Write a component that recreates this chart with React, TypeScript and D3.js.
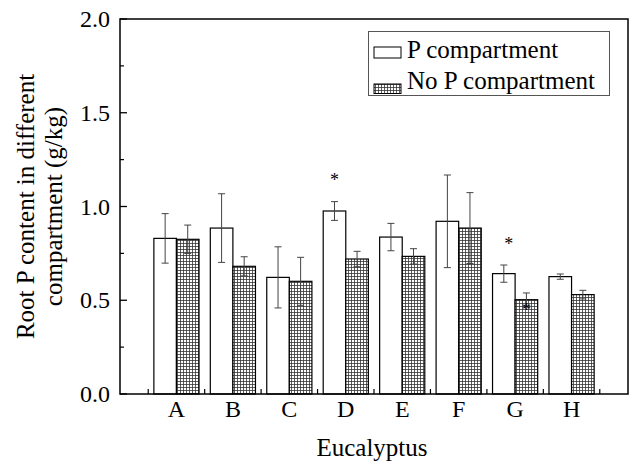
import React from "react";
import * as d3 from "d3";

// Eucalyptus clones and root P content (g/kg) in each compartment
const categories = ["A", "B", "C", "D", "E", "F", "G", "H"];
const pMeans = [0.83, 0.885, 0.622, 0.976, 0.837, 0.921, 0.642, 0.626];
const pErrors = [0.132, 0.183, 0.163, 0.05, 0.073, 0.247, 0.046, 0.014];
const noPMeans = [0.825, 0.681, 0.601, 0.72, 0.734, 0.885, 0.503, 0.53];
const noPErrors = [0.076, 0.051, 0.128, 0.041, 0.041, 0.189, 0.036, 0.023];
const yTicks = [0, 0.5, 1.0, 1.5, 2.0];
const yMinorTicks = [0.25, 0.75, 1.25, 1.75];
// significance marks: category, series (0 = P, 1 = No P), height in g/kg
const sigCategories = ["D", "G", "G"];
const sigSeries = [0, 0, 1];
const sigHeights = [1.154, 0.811, 0.459];
const seriesNames = ["P compartment", "No P compartment"];

const W = 630;
const H = 463;
const left = 120;
const right = 628;
const top = 19;
const bottom = 394;
const FONT = "'Liberation Serif', 'Times New Roman', serif";

export default function App() {
  const x = d3.scaleLinear().domain([0, categories.length + 1]).range([left, right]);
  const y = d3.scaleLinear().domain([0, 2]).range([bottom, top]);
  const unit = x(1) - x(0);
  const barW = unit * 0.4;
  const cx = (i: number) => x(i + 1);
  const barX = (i: number, s: number) => cx(i) - barW + s * barW;

  const series = [
    { means: pMeans, errs: pErrors, fill: "#fff" },
    { means: noPMeans, errs: noPErrors, fill: "url(#grid)" },
  ];

  const boundaries = d3.range(categories.length + 1).map((k) => k + 0.5);

  return (
    <svg
      width={W}
      height={H}
      style={{ position: "absolute", left: 0, top: 0, background: "#fff" }}
      fontFamily={FONT}
    >
      <defs>
        <pattern id="grid" patternUnits="userSpaceOnUse" width={3} height={3}>
          <rect width={3} height={3} fill="#fff" />
          <path d="M0,0.5H3M0.5,0V3" stroke="#333" strokeWidth={0.8} />
        </pattern>
      </defs>

      {/* bars */}
      {series.map((s, si) =>
        categories.map((c, i) => (
          <rect
            key={`b${si}-${c}`}
            x={barX(i, si)}
            y={y(s.means[i])}
            width={barW}
            height={y(0) - y(s.means[i])}
            fill={s.fill}
            stroke="#000"
            strokeWidth={1.2}
          />
        ))
      )}

      {/* error bars */}
      {series.map((s, si) =>
        categories.map((c, i) => {
          const mx = barX(i, si) + barW / 2;
          const y1 = y(s.means[i] + s.errs[i]);
          const y2 = y(s.means[i] - s.errs[i]);
          return (
            <g key={`e${si}-${c}`} stroke="#444" strokeWidth={1}>
              <line x1={mx} x2={mx} y1={y1} y2={y2} />
              <line x1={mx - 3.5} x2={mx + 3.5} y1={y1} y2={y1} />
              <line x1={mx - 3.5} x2={mx + 3.5} y1={y2} y2={y2} />
            </g>
          );
        })
      )}

      {/* significance asterisks */}
      {sigCategories.map((c, k) => {
        const i = categories.indexOf(c);
        const mx = barX(i, sigSeries[k]) + barW / 2 + (k === 1 ? 5 : 0);
        return (
          <text
            key={`s${k}`}
            x={mx}
            y={y(sigHeights[k]) + 8}
            textAnchor="middle"
            fontSize={18}
            fill="#000"
          >
            *
          </text>
        );
      })}

      {/* frame */}
      <rect
        x={left}
        y={top}
        width={right - left}
        height={bottom - top}
        fill="none"
        stroke="#000"
        strokeWidth={1.5}
      />

      {/* y ticks */}
      {yTicks.map((t) => (
        <g key={`yt${t}`}>
          <line x1={left} x2={left + 7} y1={y(t)} y2={y(t)} stroke="#000" strokeWidth={1.3} />
          <text x={110} y={y(t) + 8} textAnchor="end" fontSize={24} fill="#000">
            {t.toFixed(1)}
          </text>
        </g>
      ))}
      {yMinorTicks.map((t) => (
        <line key={`ym${t}`} x1={left} x2={left + 4} y1={y(t)} y2={y(t)} stroke="#000" strokeWidth={1.2} />
      ))}

      {/* x ticks */}
      {boundaries.map((b) => (
        <line key={`xb${b}`} x1={x(b)} x2={x(b)} y1={bottom} y2={bottom - 5} stroke="#000" strokeWidth={1.2} />
      ))}
      {categories.map((c, i) => (
        <text key={`xl${c}`} x={cx(i)} y={417} textAnchor="middle" fontSize={24} fill="#000">
          {c}
        </text>
      ))}

      {/* axis titles */}
      <text x={(left + right) / 2 - 2} y={456} textAnchor="middle" fontSize={25} fill="#000">
        Eucalyptus
      </text>
      <g transform={`translate(34, ${(top + bottom) / 2}) rotate(-90)`}>
        <text x={0} y={0} textAnchor="middle" fontSize={25} fill="#000">
          Root P content in different
        </text>
        <text x={0} y={28} textAnchor="middle" fontSize={25} fill="#000">
          compartment (g/kg)
        </text>
      </g>

      {/* legend */}
      <rect x={368.5} y={31.5} width={241} height={64} fill="#fff" stroke="#555" strokeWidth={1} />
      <rect x={374} y={47} width={27} height={11} fill="#fff" stroke="#000" strokeWidth={1} />
      <rect x={374} y={84} width={27} height={9.5} fill="url(#grid)" stroke="#000" strokeWidth={1} />
      <text x={407} y={57.5} fontSize={25} fill="#000">
        {seriesNames[0]}
      </text>
      <text x={407} y={88.5} fontSize={25} fill="#000">
        {seriesNames[1]}
      </text>
    </svg>
  );
}
